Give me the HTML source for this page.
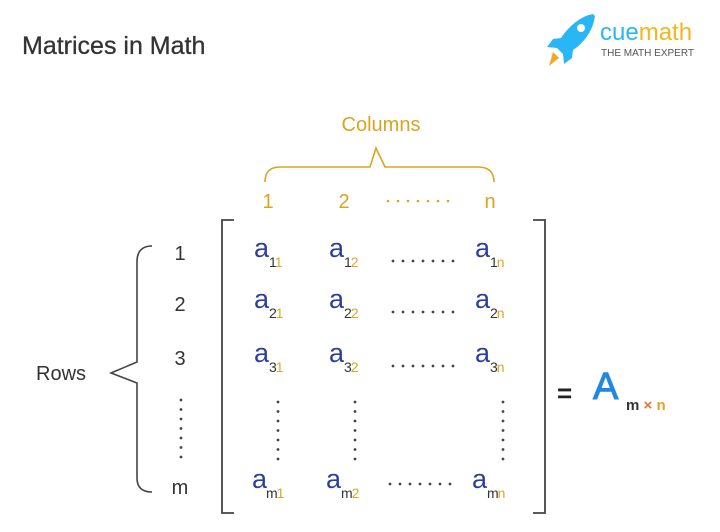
<!DOCTYPE html>
<html><head><meta charset="utf-8"><style>
html,body{margin:0;padding:0;background:#fff;}
svg{display:block;font-family:"Liberation Sans",sans-serif;}
</style></head><body>
<svg width="720" height="532" viewBox="0 0 720 532" xmlns="http://www.w3.org/2000/svg">
<defs>
<g id="hd" fill="#444"><circle cx="0" cy="0" r="1.4"/><circle cx="10" cy="0" r="1.4"/><circle cx="20" cy="0" r="1.4"/><circle cx="30" cy="0" r="1.4"/><circle cx="40" cy="0" r="1.4"/><circle cx="50" cy="0" r="1.4"/><circle cx="60" cy="0" r="1.4"/></g>
<g id="vd" fill="#444"><circle cx="0" cy="0" r="1.4"/><circle cx="0" cy="9.5" r="1.4"/><circle cx="0" cy="19" r="1.4"/><circle cx="0" cy="28.5" r="1.4"/><circle cx="0" cy="38" r="1.4"/><circle cx="0" cy="47.5" r="1.4"/><circle cx="0" cy="57" r="1.4"/></g>
</defs>
<rect width="720" height="532" fill="#fff"/>
<text x="22" y="54" font-size="25" fill="#333" stroke="#333" stroke-width="0.3">Matrices in Math</text>
<g transform="translate(545,12)">
  <path d="M48 2 C36 4 24 14 16 26 L8 27 L2 35 L12 36 L18 42 L19 52 L27 46 L28 38 C40 30 48 18 50 4 Z" fill="#29b6f6"/>
  <circle cx="36" cy="16" r="4" fill="#fff"/>
  <path d="M8 40 L14 46 L4 54 Z" fill="#f5a623"/>
</g>
<text x="600" y="40" font-size="24" fill="#29b6f6">cue<tspan fill="#f5b51f">math</tspan></text>
<text x="601" y="56" font-size="10" fill="#555">THE MATH EXPERT</text>
<text x="381" y="131" font-size="20" fill="#d9a520" text-anchor="middle">Columns</text>
<path d="M265 182 Q265 167 280 167 L370 167 L376 148 L385 167 L478 167 Q494 167 494 182" fill="none" stroke="#d9a520" stroke-width="1.6"/>
<g font-size="20" fill="#d9a520" text-anchor="middle">
<text x="268" y="208">1</text><text x="344" y="208">2</text><text x="490" y="208">n</text>
</g>
<g fill="#d9a520"><circle cx="388" cy="201" r="1.3"/><circle cx="398" cy="201" r="1.3"/><circle cx="408" cy="201" r="1.3"/><circle cx="418" cy="201" r="1.3"/><circle cx="428" cy="201" r="1.3"/><circle cx="438" cy="201" r="1.3"/><circle cx="448" cy="201" r="1.3"/></g>
<path d="M234 220 L222 220 L222 513 L234 513" fill="none" stroke="#444" stroke-width="1.8"/>
<path d="M533 220 L545 220 L545 513 L533 513" fill="none" stroke="#444" stroke-width="1.8"/>
<path d="M152 246 Q137 246 137 262 L137 362 L111 373 L137 383 L137 478 Q137 492 152 492" fill="none" stroke="#444" stroke-width="1.6"/>
<text x="36" y="380" font-size="20" fill="#333">Rows</text>
<g font-size="20" fill="#333" text-anchor="middle">
<text x="180" y="260">1</text><text x="180" y="311">2</text><text x="180" y="365">3</text><text x="180" y="494">m</text>
</g>
<use href="#vd" x="181" y="400"/>
<use href="#vd" x="278" y="402"/>
<use href="#vd" x="355" y="402"/>
<use href="#vd" x="503" y="402"/>
<g font-size="27" fill="#2b3f9e">
<text x="254" y="257">a</text><text x="329" y="257">a</text><text x="475" y="257">a</text>
<text x="254" y="308">a</text><text x="329" y="308">a</text><text x="475" y="308">a</text>
<text x="254" y="362">a</text><text x="329" y="362">a</text><text x="475" y="362">a</text>
<text x="252" y="488">a</text><text x="326" y="488">a</text><text x="472" y="488">a</text>
</g>
<g font-size="14" fill="#333" letter-spacing="-1">
<text x="269" y="267">1<tspan fill="#e0a52a">1</tspan></text>
<text x="344" y="267">1<tspan fill="#e0a52a">2</tspan></text>
<text x="490" y="267">1<tspan fill="#e0a52a">n</tspan></text>
<text x="269" y="318">2<tspan fill="#e0a52a">1</tspan></text>
<text x="344" y="318">2<tspan fill="#e0a52a">2</tspan></text>
<text x="490" y="318">2<tspan fill="#e0a52a">n</tspan></text>
<text x="269" y="372">3<tspan fill="#e0a52a">1</tspan></text>
<text x="344" y="372">3<tspan fill="#e0a52a">2</tspan></text>
<text x="490" y="372">3<tspan fill="#e0a52a">n</tspan></text>
<text x="266" y="498">m<tspan fill="#e0a52a">1</tspan></text>
<text x="341" y="498">m<tspan fill="#e0a52a">2</tspan></text>
<text x="487" y="498">m<tspan fill="#e0a52a">n</tspan></text>
</g>
<use href="#hd" x="393" y="261"/>
<use href="#hd" x="393" y="312"/>
<use href="#hd" x="393" y="366"/>
<use href="#hd" x="390" y="484"/>
<text x="557" y="402" font-size="26" fill="#222" font-weight="bold">=</text>
<text x="593" y="399" font-size="38" fill="#1e88e5" stroke="#1e88e5" stroke-width="1">A</text>
<text x="626" y="410" font-size="15" fill="#333" font-weight="bold">m <tspan fill="#e8703a">×</tspan> <tspan fill="#e0a52a">n</tspan></text>
</svg>
</body></html>
